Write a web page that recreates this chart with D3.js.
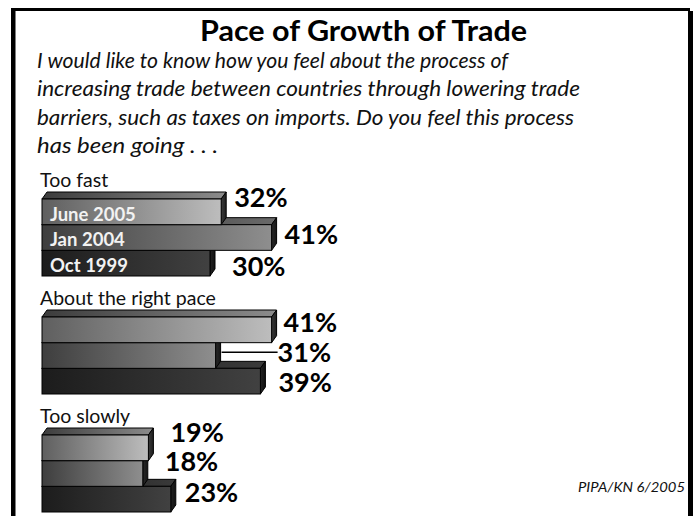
<!DOCTYPE html>
<html>
<head>
<meta charset="utf-8">
<script src="https://cdn.jsdelivr.net/npm/d3@7/dist/d3.min.js"></script>
<style>
  html, body { margin: 0; padding: 0; background: #fff; }
  svg { display: block; font-family: Lato, "Open Sans", sans-serif; }
</style>
</head>
<body>
<svg id="chart" width="695" height="516"></svg>
<script>
// Survey answers and the three polling waves
const categories = ["Too fast", "About the right pace", "Too slowly"];
const series = ["June 2005", "Jan 2004", "Oct 1999"];
const values = [
  [32, 41, 30],   // Too fast
  [41, 31, 39],   // About the right pace
  [19, 18, 23]    // Too slowly
];
const titleText = "Pace of Growth of Trade";
const questionLines = [
  "I would like to know how you feel about the process of",
  "increasing trade between countries through lowering trade",
  "barriers, such as taxes on imports. Do you feel this process",
  "has been going . . ."
];
const sourceText = "PIPA/KN 6/2005";

// Label placement relative to each bar's end and its bottom edge
const labelNudge = [
  [[8, -18], [8, -6], [17, 0]],
  [[7, -11], [57, -6], [13, -2]],
  [[17, -19], [17, -15], [9, -10]]
];
const leaderMin = 30;   // draw a leader line when a label sits this far out

const svg = d3.select("#chart");
const W = 695, H = 516;
const depthX = 5, depthY = 7;

// Frame
svg.append("rect").attr("x", 11).attr("y", 8).attr("width", 679).attr("height", 3).attr("fill", "#000");
svg.append("rect").attr("x", 11).attr("y", 8).attr("width", 4.5).attr("height", H - 8).attr("fill", "#000");
svg.append("rect").attr("x", 688).attr("y", 11).attr("width", 5).attr("height", H - 11).attr("fill", "#000");

// Title and question
svg.append("text")
  .attr("x", 200).attr("y", 41)
  .attr("textLength", 327).attr("lengthAdjust", "spacingAndGlyphs")
  .attr("font-size", 28).attr("font-weight", "bold").attr("fill", "#000")
  .text(titleText);

const lineWidths = [471, 543, 537, 181];
svg.append("g").selectAll("text").data(questionLines).join("text")
  .attr("x", 37)
  .attr("y", (d, i) => 68 + i * 28.3)
  .attr("textLength", (d, i) => lineWidths[i])
  .attr("lengthAdjust", "spacingAndGlyphs")
  .attr("font-size", 22).attr("font-style", "italic").attr("fill", "#111")
  .text(d => d);

// Scales
const x = d3.scaleLinear().domain([0, 100]).range([42, 602]);
const yGroup = d3.scaleBand().domain(categories).range([199, 199 + 3 * 118]).paddingInner(0).paddingOuter(0);
const yBar = d3.scaleBand().domain(series).range([0, 77]);

// Gradients per wave: front, top and side faces
const shades = {
  "June 2005": { front: ["#5f5f5f", "#bdbdbd"], top: ["#3c3c3c", "#8c8c8c"], side: ["#3a3a3a", "#1e1e1e"] },
  "Jan 2004":  { front: ["#3e3e3e", "#8e8e8e"], top: ["#2c2c2c", "#6a6a6a"], side: ["#2a2a2a", "#151515"] },
  "Oct 1999":  { front: ["#1c1c1c", "#414141"], top: ["#1a1a1a", "#3a3a3a"], side: ["#222", "#111"] }
};
const defs = svg.append("defs");
series.forEach((s, si) => {
  ["front", "top", "side"].forEach(face => {
    const g = defs.append("linearGradient").attr("id", `g-${si}-${face}`)
      .attr("x1", 0).attr("y1", 0).attr("x2", 1).attr("y2", 0);
    g.append("stop").attr("offset", "0%").attr("stop-color", shades[s][face][0]);
    g.append("stop").attr("offset", "100%").attr("stop-color", shades[s][face][1]);
  });
});

categories.forEach((cat, ci) => {
  const g0 = yGroup(cat);
  const grp = svg.append("g");

  // Category heading
  grp.append("text")
    .attr("x", 40).attr("y", g0 - depthY - 5)
    .attr("font-size", 19.5).attr("fill", "#111")
    .text(cat);

  // Bars, bottom wave first so upper bars overlap the ones below
  const order = d3.range(series.length).reverse();
  order.forEach(si => {
    const s = series[si];
    const v = values[ci][si];
    const x0 = x(0), x1 = x(v);
    const yt = g0 + yBar(s), yb = yt + yBar.bandwidth();
    const b = grp.append("g");
    b.append("path")
      .attr("d", `M${x0},${yt}L${x0 + depthX},${yt - depthY}L${x1 + depthX},${yt - depthY}L${x1},${yt}Z`)
      .attr("fill", `url(#g-${si}-top)`).attr("stroke", "#000").attr("stroke-width", 1);
    b.append("path")
      .attr("d", `M${x1},${yt}L${x1 + depthX},${yt - depthY}L${x1 + depthX},${yb - depthY}L${x1},${yb}Z`)
      .attr("fill", `url(#g-${si}-side)`).attr("stroke", "#000").attr("stroke-width", 1);
    b.append("rect")
      .attr("x", x0).attr("y", yt).attr("width", x1 - x0).attr("height", yb - yt)
      .attr("fill", `url(#g-${si}-front)`).attr("stroke", "#000").attr("stroke-width", 1);
  });

  // Wave names inside the first group's bars
  if (ci === 0) {
    series.forEach(s => {
      grp.append("text")
        .attr("x", 50).attr("y", g0 + yBar(s) + yBar.bandwidth() - 4)
        .attr("font-size", 18.5).attr("font-weight", "bold").attr("fill", "#f2f2f2")
        .text(s);
    });
  }

  // Percent labels
  series.forEach((s, si) => {
    const v = values[ci][si];
    const [dx, dy] = labelNudge[ci][si];
    const endX = x(v) + depthX;
    const yb = g0 + yBar(s) + yBar.bandwidth();
    if (dx > leaderMin) {
      grp.append("line")
        .attr("x1", endX + 1).attr("x2", endX + dx)
        .attr("y1", yb - 16).attr("y2", yb - 16)
        .attr("stroke", "#000").attr("stroke-width", 1.5);
    }
    grp.append("text")
      .attr("x", endX + dx).attr("y", yb + dy)
      .attr("font-size", 27).attr("font-weight", "bold").attr("fill", "#000")
      .text(v + "%");
  });
});

// Source note
svg.append("text")
  .attr("x", 685).attr("y", 492).attr("text-anchor", "end")
  .attr("textLength", 107).attr("lengthAdjust", "spacingAndGlyphs")
  .attr("font-size", 14).attr("font-style", "italic").attr("fill", "#111")
  .text(sourceText);
</script>
</body>
</html>
